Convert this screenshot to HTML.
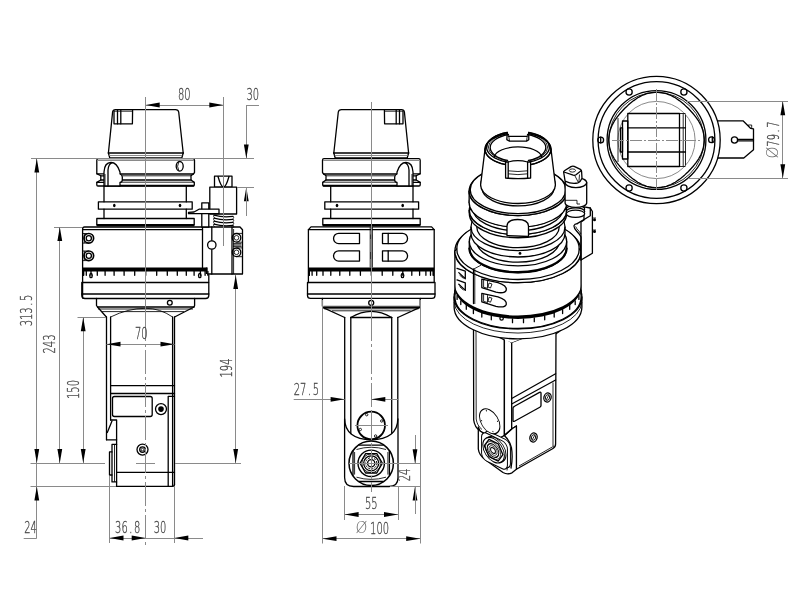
<!DOCTYPE html>
<html><head><meta charset="utf-8"><title>Drawing</title>
<style>
html,body{margin:0;padding:0;background:#fff;}
svg{display:block;filter:grayscale(1)}
.k{stroke:#000;stroke-width:1.3;fill:none;stroke-linecap:round;stroke-linejoin:round}
.kw{stroke:#000;stroke-width:1.3;fill:#fff;stroke-linejoin:round}
.h{stroke:#000;stroke-width:1.7;fill:none}
.m{stroke:#000;stroke-width:0.85;fill:none}
.t{stroke:#8a8a8a;stroke-width:1;fill:none}
.c{stroke:#8a8a8a;stroke-width:1;fill:none;stroke-dasharray:24 3 3 3}
.c2{stroke:#8a8a8a;stroke-width:1;fill:none;stroke-dasharray:12 2 2 2}
.b{fill:#000;stroke:none}
.w{fill:#fff;stroke:none}
.a{fill:#000;stroke:none}
text{font-family:"DejaVu Sans Light","DejaVu Sans","Liberation Sans",sans-serif;font-weight:200;font-size:16px;fill:#484848;stroke:#484848;stroke-width:0.3;vector-effect:non-scaling-stroke}
</style></head><body>
<svg width="800" height="600" viewBox="0 0 800 600">
<rect x="0" y="0" width="800" height="600" fill="#fff"/>
<g id="v1">
<path class="k" d="M108.4,153 L112.6,112 Q112.9,109.6 115.5,109.6 L175.5,109.6 Q178.3,109.6 178.7,112 L183.2,153"/>
<line class="k" x1="108.4" y1="153" x2="183.2" y2="153"/>
<path class="k" d="M108.4,153 L109.8,158 L181.8,158 L183.2,153"/>
<line class="t" x1="109.4" y1="155.5" x2="182.2" y2="155.5"/>
<path class="k" d="M114,111 L114,123.8 L132.4,123.8 L132.6,109.6"/>
<line class="k" x1="117.5" y1="110" x2="117.5" y2="123.8"/>
<line class="k" x1="120.8" y1="110" x2="120.8" y2="123.8"/>
<line class="m" x1="114" y1="111.2" x2="132.4" y2="111.2"/>
<path class="kw" d="M98.3,158.7 L193,158.7 Q194.5,158.7 194.5,160.2 L194.5,172.5 L193.5,173.8 L191,175.8 L191,180 L194.3,182.4 L194.3,185 Q194.3,186 193.3,186 L98,186 Q96.8,186 96.8,185 L96.8,182.4 L100.8,180 L100.8,175.8 L96.8,173.6 L96.8,160.2 Q96.8,158.7 98.3,158.7 Z"/>
<line class="t" x1="97.5" y1="160.5" x2="194" y2="160.5"/>
<line class="k" x1="120" y1="174" x2="193.5" y2="174"/>
<line class="m" x1="122.2" y1="175.8" x2="191" y2="175.8"/>
<line class="k" x1="122.2" y1="180" x2="191" y2="180"/>
<line class="m" x1="120" y1="182.2" x2="194.3" y2="182.2"/>
<line class="h" x1="118" y1="185.7" x2="194" y2="185.7"/>
<line class="k" x1="96.8" y1="173.8" x2="106" y2="173.8"/>
<line class="k" x1="100.8" y1="175.8" x2="106" y2="175.8"/>
<line class="k" x1="100.8" y1="180" x2="106" y2="180"/>
<line class="k" x1="96.8" y1="182.4" x2="106" y2="182.4"/>
<path class="kw" d="M104,186 L104,172 Q104.5,162.5 111,162.5 Q117,162.5 120,172 L120,174 Q122.3,175 122.3,177 L122.3,180 Q122.3,182 120,182.5 L120,186 Z"/>
<path class="k" d="M108,186 L108,170 Q108.5,164 112,162.6"/>
<line class="m" x1="105" y1="174" x2="105" y2="186"/>
<ellipse class="k" cx="179.7" cy="166.3" rx="3.5" ry="4.8"/>
<path class="m" d="M178.8,161.8 Q176.4,166.3 178.8,170.8"/>
<line class="k" x1="104" y1="186" x2="104" y2="201.8"/>
<line class="k" x1="186.3" y1="186" x2="186.3" y2="201.8"/>
<rect class="k" x="98.4" y="201.8" width="93.8" height="7.4" rx="0"/>
<line class="k" x1="104" y1="209.2" x2="104" y2="218.5"/>
<line class="k" x1="186.3" y1="209.2" x2="186.3" y2="218.5"/>
<ellipse class="b" cx="114.3" cy="205.5" rx="1.3" ry="1.8"/>
<ellipse class="b" cx="180" cy="205.5" rx="1.3" ry="1.8"/>
<path class="k" d="M96.8,225 L96.8,218.5 L194.2,218.5 L194.2,225"/>
<rect class="b" x="96.8" y="224" width="97.4" height="2.4" rx="0"/>
<path class="k" d="M82.6,298 L82.6,229 Q82.6,227 84.6,227 L240,227 L242.5,229.8 L242.5,274 L207.5,274"/>
<line class="k" x1="83" y1="229.6" x2="202.5" y2="229.6"/>
<circle class="h" cx="88.8" cy="238.3" r="4.8"/>
<circle class="k" cx="88.8" cy="238.3" r="2.6"/>
<line class="m" x1="83" y1="233.5" x2="88.8" y2="233.5"/>
<line class="m" x1="83" y1="243.10000000000002" x2="88.8" y2="243.10000000000002"/>
<line class="m" x1="84.3" y1="233.5" x2="84.3" y2="243.10000000000002"/>
<circle class="h" cx="88.8" cy="255.8" r="4.8"/>
<circle class="k" cx="88.8" cy="255.8" r="2.6"/>
<line class="m" x1="83" y1="251.0" x2="88.8" y2="251.0"/>
<line class="m" x1="83" y1="260.6" x2="88.8" y2="260.6"/>
<line class="m" x1="84.3" y1="251.0" x2="84.3" y2="260.6"/>
<rect class="b" x="82.6" y="267.5" width="124.6" height="4" rx="0"/>
<rect class="b" x="205.8" y="267.5" width="1.8" height="6.5" rx="0"/>
<line class="k" x1="83.5" y1="271.5" x2="83.5" y2="275.3"/>
<line class="k" x1="86.3" y1="271.5" x2="86.3" y2="275.3"/>
<line class="k" x1="91.0" y1="271.5" x2="91.0" y2="275.3"/>
<line class="k" x1="97.3" y1="271.5" x2="97.3" y2="275.3"/>
<line class="k" x1="105.1" y1="271.5" x2="105.1" y2="275.3"/>
<line class="k" x1="114.1" y1="271.5" x2="114.1" y2="275.3"/>
<line class="k" x1="124.1" y1="271.5" x2="124.1" y2="275.3"/>
<line class="k" x1="134.7" y1="271.5" x2="134.7" y2="275.3"/>
<line class="k" x1="145.7" y1="271.5" x2="145.7" y2="275.3"/>
<line class="k" x1="156.7" y1="271.5" x2="156.7" y2="275.3"/>
<line class="k" x1="167.3" y1="271.5" x2="167.3" y2="275.3"/>
<line class="k" x1="177.3" y1="271.5" x2="177.3" y2="275.3"/>
<line class="k" x1="186.3" y1="271.5" x2="186.3" y2="275.3"/>
<line class="k" x1="194.1" y1="271.5" x2="194.1" y2="275.3"/>
<line class="k" x1="200.4" y1="271.5" x2="200.4" y2="275.3"/>
<line class="k" x1="205.1" y1="271.5" x2="205.1" y2="275.3"/>
<line class="k" x1="207.9" y1="271.5" x2="207.9" y2="275.3"/>
<line class="k" x1="83.6" y1="271.5" x2="83.6" y2="275.3"/>
<ellipse class="k" cx="91" cy="275.6" rx="1.3" ry="2.1"/>
<ellipse class="k" cx="199.8" cy="275.6" rx="1.3" ry="2.1"/>
<line class="k" x1="82.6" y1="282.5" x2="208.6" y2="282.5"/>
<path class="k" d="M81.8,282.5 L81.8,295.5 Q81.8,298.5 85,298.5 L205.6,298.5 Q208.8,298.5 208.8,295.5 L208.8,275"/>
<line class="k" x1="81.8" y1="294" x2="208.8" y2="294"/>
<path class="k" d="M96.5,298.5 L96.5,305.5 L97.5,307 L194,307 L194.6,305.5 L194.6,298.5"/>
<line class="m" x1="98" y1="309" x2="193" y2="309"/>
<circle class="k" cx="169.8" cy="302.8" r="2.4"/>
<path class="k" d="M97.5,307 L106.4,317"/>
<path class="k" d="M194,307 L174.6,317"/>
<line class="m" x1="102" y1="311.6" x2="184" y2="311.6"/>
<path class="m" d="M110.6,317 Q128,308.3 145.7,308.3 Q160,308.3 172.6,317"/>
<line class="k" x1="202.5" y1="227" x2="202.5" y2="267.5"/>
<line class="k" x1="211.8" y1="227" x2="211.8" y2="274"/>
<circle class="kw" cx="211.8" cy="245" r="4.2"/>
<line class="k" x1="232" y1="227" x2="232" y2="274"/>
<line class="m" x1="233.6" y1="229" x2="233.6" y2="274"/>
<circle class="k" cx="236.5" cy="237.8" r="4.3"/>
<circle class="m" cx="236.5" cy="237.8" r="2.3"/>
<line class="m" x1="236.5" y1="233.4" x2="242" y2="233.4"/>
<line class="m" x1="236.5" y1="242.20000000000002" x2="242" y2="242.20000000000002"/>
<circle class="k" cx="236.5" cy="252.3" r="4.3"/>
<circle class="m" cx="236.5" cy="252.3" r="2.3"/>
<line class="m" x1="236.5" y1="247.9" x2="242" y2="247.9"/>
<line class="m" x1="236.5" y1="256.7" x2="242" y2="256.7"/>
<line class="k" x1="233.6" y1="243.8" x2="241" y2="243.8"/>
<line class="k" x1="233.6" y1="246.2" x2="241" y2="246.2"/>
<rect class="k" x="214.5" y="176.2" width="17.5" height="11" rx="0"/>
<path class="k" d="M218,176.5 Q221,187 223.5,187 Q226,187 229,176.5"/>
<rect class="kw" x="209.8" y="187.2" width="26.8" height="26.8" rx="0"/>
<rect class="kw" x="201.8" y="202.8" width="7" height="24.2" rx="0"/>
<path class="kw" d="M188.5,212.4 L194,212 L199,209.2 L219,209.2 L219,213.7 L188.5,213.7 Z"/>
<path class="k" d="M214,215.2 Q223,217.79999999999998 233,216.39999999999998"/>
<path class="m" d="M214,215.2 Q213,216.7 214.6,217.79999999999998"/>
<path class="m" d="M233,216.39999999999998 Q234.4,217.6 233,218.79999999999998"/>
<path class="k" d="M214,218.2 Q223,220.79999999999998 233,219.39999999999998"/>
<path class="m" d="M214,218.2 Q213,219.7 214.6,220.79999999999998"/>
<path class="m" d="M233,219.39999999999998 Q234.4,220.6 233,221.79999999999998"/>
<path class="k" d="M214,221.2 Q223,223.79999999999998 233,222.39999999999998"/>
<path class="m" d="M214,221.2 Q213,222.7 214.6,223.79999999999998"/>
<path class="m" d="M233,222.39999999999998 Q234.4,223.6 233,224.79999999999998"/>
<path class="k" d="M214,224.2 Q223,226.79999999999998 233,225.39999999999998"/>
<path class="m" d="M214,224.2 Q213,225.7 214.6,226.79999999999998"/>
<path class="m" d="M233,225.39999999999998 Q234.4,226.6 233,227.79999999999998"/>
<line class="k" x1="106.5" y1="317" x2="106.5" y2="439.8"/>
<line class="k" x1="110.6" y1="317" x2="110.6" y2="420"/>
<line class="k" x1="172.6" y1="317" x2="172.6" y2="486"/>
<line class="k" x1="174.5" y1="317" x2="174.5" y2="484.5"/>
<line class="k" x1="110.6" y1="385.6" x2="174.5" y2="385.6"/>
<line class="k" x1="110.6" y1="393.5" x2="174.5" y2="393.5"/>
<rect class="k" x="112.5" y="396.5" width="39.7" height="20" rx="2"/>
<circle class="k" cx="161" cy="409.1" r="5.5"/>
<circle class="b" cx="161" cy="409.1" r="2.8"/>
<path class="k" d="M174.5,396.3 L168.2,396.3 L168.2,486"/>
<path class="k" d="M110.6,420 L116.6,420 L116.6,486.3"/>
<path class="k" d="M112,421 L107.3,432.5"/>
<line class="k" x1="106.5" y1="439.8" x2="116.6" y2="439.8"/>
<path class="k" d="M116.6,444.4 L112,444.4 L112,481.9 L116.6,481.9"/>
<path class="k" d="M112,451.9 L109.5,451.9 L109.5,475 L112,475"/>
<line class="m" x1="114.5" y1="444.4" x2="114.5" y2="481.9"/>
<circle class="k" cx="142.5" cy="449.6" r="5.5"/>
<circle class="k" cx="142.5" cy="449.6" r="2.8"/>
<circle class="m" cx="142.5" cy="449.6" r="1.3"/>
<line class="k" x1="116.6" y1="472.3" x2="174.5" y2="472.3"/>
<path class="k" d="M116.6,486.3 L172.5,486.3 Q174.5,486.3 174.5,484.3"/>
</g>
<g id="d1">
<line class="t" x1="145.5" y1="97" x2="145.5" y2="317"/>
<line class="c" x1="145.5" y1="317" x2="145.5" y2="545"/>
<line class="t" x1="223.5" y1="97" x2="223.5" y2="246"/>
<line class="t" x1="145.7" y1="105.5" x2="223.3" y2="105.5"/>
<polygon class="a" points="145.7,105.0 159.7,102.6 159.7,107.4"/>
<polygon class="a" points="223.3,105.0 209.3,102.6 209.3,107.4"/>
<text transform="translate(184.2 100.3) scale(0.62 1)" x="-10.21 0.03" y="0">80</text>
<line class="t" x1="246.3" y1="105.5" x2="259" y2="105.5"/>
<line class="t" x1="246.5" y1="105" x2="246.5" y2="158.5"/>
<polygon class="a" points="246.3,158.5 243.9,144.5 248.7,144.5"/>
<polygon class="a" points="246.3,187.2 243.9,201.2 248.7,201.2"/>
<line class="t" x1="246.5" y1="187.2" x2="246.5" y2="216"/>
<text transform="translate(252.8 100.3) scale(0.62 1)" x="-10.21 0.03" y="0">30</text>
<line class="t" x1="31" y1="158.5" x2="254" y2="158.5"/>
<line class="t" x1="237" y1="187.5" x2="254" y2="187.5"/>
<line class="t" x1="36.5" y1="158.5" x2="36.5" y2="463"/>
<polygon class="a" points="36.8,158.5 34.4,172.5 39.2,172.5"/>
<polygon class="a" points="36.8,463.0 34.4,449.0 39.2,449.0"/>
<text transform="translate(32.4 310.5) rotate(-90) scale(0.62 1)" x="-25.57 -15.33 -5.09 7.7 15.4" y="0">313.5</text>
<line class="t" x1="54" y1="227.5" x2="82" y2="227.5"/>
<line class="t" x1="59.5" y1="227" x2="59.5" y2="463"/>
<polygon class="a" points="59.8,227.0 57.4,241.0 62.2,241.0"/>
<polygon class="a" points="59.8,463.0 57.4,449.0 62.2,449.0"/>
<text transform="translate(55.2 344) rotate(-90) scale(0.62 1)" x="-15.33 -5.09 5.15" y="0">243</text>
<line class="t" x1="77.5" y1="317.5" x2="106" y2="317.5"/>
<line class="t" x1="83.5" y1="317.2" x2="83.5" y2="463"/>
<polygon class="a" points="83.2,317.2 80.8,331.2 85.6,331.2"/>
<polygon class="a" points="83.2,463.0 80.8,449.0 85.6,449.0"/>
<text transform="translate(79.2 389.5) rotate(-90) scale(0.62 1)" x="-15.33 -5.09 5.15" y="0">150</text>
<line class="t" x1="235.5" y1="275" x2="235.5" y2="463"/>
<polygon class="a" points="235.7,275.0 233.3,289.0 238.1,289.0"/>
<polygon class="a" points="235.7,463.0 233.3,449.0 238.1,449.0"/>
<text transform="translate(232.2 368) rotate(-90) scale(0.62 1)" x="-15.33 -5.09 5.15" y="0">194</text>
<line class="t" x1="30.5" y1="463.5" x2="105" y2="463.5"/>
<line class="t" x1="175" y1="463.5" x2="241" y2="463.5"/>
<line class="t" x1="136" y1="463.5" x2="155" y2="463.5"/>
<line class="t" x1="30.5" y1="486.5" x2="116" y2="486.5"/>
<line class="t" x1="36.5" y1="463" x2="36.5" y2="538"/>
<polygon class="a" points="36.8,486.4 34.4,500.4 39.2,500.4"/>
<line class="t" x1="23.7" y1="538.5" x2="36.8" y2="538.5"/>
<text transform="translate(30.5 533) scale(0.62 1)" x="-10.21 0.03" y="0">24</text>
<line class="t" x1="106.5" y1="344.5" x2="174.5" y2="344.5"/>
<polygon class="a" points="106.5,344.2 120.5,341.8 120.5,346.6"/>
<polygon class="a" points="174.5,344.2 160.5,341.8 160.5,346.6"/>
<text transform="translate(141.2 338.8) scale(0.62 1)" x="-10.21 0.03" y="0">70</text>
<line class="t" x1="109.5" y1="476" x2="109.5" y2="543"/>
<line class="t" x1="174.5" y1="486" x2="174.5" y2="543"/>
<line class="t" x1="109.5" y1="538.5" x2="203" y2="538.5"/>
<polygon class="a" points="109.5,538.0 123.5,535.6 123.5,540.4"/>
<polygon class="a" points="145.7,538.0 131.7,535.6 131.7,540.4"/>
<polygon class="a" points="174.3,538.0 188.3,535.6 188.3,540.4"/>
<text transform="translate(127.7 533) scale(0.62 1)" x="-20.45 -10.21 2.58 10.27" y="0">36.8</text>
<text transform="translate(160 533) scale(0.62 1)" x="-10.21 0.03" y="0">30</text>
</g>
<g id="v2">
<g transform="translate(517.0 0) scale(-1 1)">
<path class="k" d="M108.4,153 L112.6,112 Q112.9,109.6 115.5,109.6 L175.5,109.6 Q178.3,109.6 178.7,112 L183.2,153"/>
<line class="k" x1="108.4" y1="153" x2="183.2" y2="153"/>
<path class="k" d="M108.4,153 L109.8,158 L181.8,158 L183.2,153"/>
<line class="t" x1="109.4" y1="155.5" x2="182.2" y2="155.5"/>
<path class="k" d="M114,111 L114,123.8 L132.4,123.8 L132.6,109.6"/>
<line class="k" x1="117.5" y1="110" x2="117.5" y2="123.8"/>
<line class="k" x1="120.8" y1="110" x2="120.8" y2="123.8"/>
<line class="m" x1="114" y1="111.2" x2="132.4" y2="111.2"/>
<path class="kw" d="M98.3,158.7 L193,158.7 Q194.5,158.7 194.5,160.2 L194.5,172.5 L193.5,173.8 L191,175.8 L191,180 L194.3,182.4 L194.3,185 Q194.3,186 193.3,186 L98,186 Q96.8,186 96.8,185 L96.8,182.4 L100.8,180 L100.8,175.8 L96.8,173.6 L96.8,160.2 Q96.8,158.7 98.3,158.7 Z"/>
<line class="t" x1="97.5" y1="160.5" x2="194" y2="160.5"/>
<line class="k" x1="120" y1="174" x2="193.5" y2="174"/>
<line class="m" x1="122.2" y1="175.8" x2="191" y2="175.8"/>
<line class="k" x1="122.2" y1="180" x2="191" y2="180"/>
<line class="m" x1="120" y1="182.2" x2="194.3" y2="182.2"/>
<line class="h" x1="118" y1="185.7" x2="194" y2="185.7"/>
<line class="k" x1="96.8" y1="173.8" x2="106" y2="173.8"/>
<line class="k" x1="100.8" y1="175.8" x2="106" y2="175.8"/>
<line class="k" x1="100.8" y1="180" x2="106" y2="180"/>
<line class="k" x1="96.8" y1="182.4" x2="106" y2="182.4"/>
<path class="kw" d="M104,186 L104,172 Q104.5,162.5 111,162.5 Q117,162.5 120,172 L120,174 Q122.3,175 122.3,177 L122.3,180 Q122.3,182 120,182.5 L120,186 Z"/>
<path class="k" d="M108,186 L108,170 Q108.5,164 112,162.6"/>
<line class="m" x1="105" y1="174" x2="105" y2="186"/>
<line class="k" x1="104" y1="186" x2="104" y2="201.8"/>
<line class="k" x1="186.3" y1="186" x2="186.3" y2="201.8"/>
<rect class="k" x="98.4" y="201.8" width="93.8" height="7.4" rx="0"/>
<line class="k" x1="104" y1="209.2" x2="104" y2="218.5"/>
<line class="k" x1="186.3" y1="209.2" x2="186.3" y2="218.5"/>
<ellipse class="b" cx="114.3" cy="205.5" rx="1.3" ry="1.8"/>
<ellipse class="b" cx="180" cy="205.5" rx="1.3" ry="1.8"/>
<path class="k" d="M96.8,225 L96.8,218.5 L194.2,218.5 L194.2,225"/>
<rect class="b" x="96.8" y="224" width="97.4" height="2.4" rx="0"/>
</g>
<path class="k" d="M308.4,282.5 L308.4,229.6 L311,226.9 L431.6,226.9 L434.2,229.6 L434.2,282.5"/>
<line class="k" x1="308.4" y1="229.6" x2="434.2" y2="229.6"/>
<path class="k" d="M359.5,233.3 L338.7,233.3 A5.15,5.15 0 0 0 338.7,243.60000000000002 L359.5,243.60000000000002 Z"/>
<path class="k" d="M382.5,233.3 L402.4,233.3 A5.15,5.15 0 0 1 402.4,243.60000000000002 L382.5,243.60000000000002 Z"/>
<line class="k" x1="388.2" y1="233.3" x2="388.2" y2="243.60000000000002"/>
<path class="k" d="M359.5,250.8 L338.7,250.8 A5.15,5.15 0 0 0 338.7,261.1 L359.5,261.1 Z"/>
<path class="k" d="M382.5,250.8 L402.4,250.8 A5.15,5.15 0 0 1 402.4,261.1 L382.5,261.1 Z"/>
<line class="k" x1="388.2" y1="250.8" x2="388.2" y2="261.1"/>
<line class="m" x1="370.2" y1="227" x2="370.2" y2="267.5"/>
<line class="m" x1="372.4" y1="227" x2="372.4" y2="267.5"/>
<path d="M371.3,234.5 V239 M371.3,252 V259" stroke="#000" stroke-width="1.7" fill="none"/>
<rect class="b" x="308.4" y="267.5" width="125.8" height="4" rx="0"/>
<line class="k" x1="309.3" y1="271.5" x2="309.3" y2="275.3"/>
<line class="k" x1="312.1" y1="271.5" x2="312.1" y2="275.3"/>
<line class="k" x1="316.7" y1="271.5" x2="316.7" y2="275.3"/>
<line class="k" x1="323.0" y1="271.5" x2="323.0" y2="275.3"/>
<line class="k" x1="330.8" y1="271.5" x2="330.8" y2="275.3"/>
<line class="k" x1="339.8" y1="271.5" x2="339.8" y2="275.3"/>
<line class="k" x1="349.8" y1="271.5" x2="349.8" y2="275.3"/>
<line class="k" x1="360.4" y1="271.5" x2="360.4" y2="275.3"/>
<line class="k" x1="371.3" y1="271.5" x2="371.3" y2="275.3"/>
<line class="k" x1="382.2" y1="271.5" x2="382.2" y2="275.3"/>
<line class="k" x1="392.8" y1="271.5" x2="392.8" y2="275.3"/>
<line class="k" x1="402.8" y1="271.5" x2="402.8" y2="275.3"/>
<line class="k" x1="411.8" y1="271.5" x2="411.8" y2="275.3"/>
<line class="k" x1="419.6" y1="271.5" x2="419.6" y2="275.3"/>
<line class="k" x1="425.9" y1="271.5" x2="425.9" y2="275.3"/>
<line class="k" x1="430.5" y1="271.5" x2="430.5" y2="275.3"/>
<line class="k" x1="433.3" y1="271.5" x2="433.3" y2="275.3"/>
<line class="k" x1="309.3" y1="271.5" x2="309.3" y2="275.3"/>
<line class="k" x1="433.3" y1="271.5" x2="433.3" y2="275.3"/>
<ellipse class="k" cx="402.5" cy="275.6" rx="1.3" ry="2.1"/>
<line class="k" x1="308.4" y1="282.5" x2="434.2" y2="282.5"/>
<path class="k" d="M307.5,282.5 L307.5,295.5 Q307.5,298.4 310.5,298.4 L432,298.4 Q435,298.4 435,295.5 L435,282.5"/>
<line class="k" x1="307.5" y1="294" x2="435" y2="294"/>
<path class="k" d="M322.4,298.4 L322.4,306 L323.2,307.6 L419.4,307.6 L420.2,306 L420.2,298.4"/>
<line class="m" x1="323.5" y1="306.3" x2="419" y2="306.3"/>
<line class="m" x1="324" y1="308.8" x2="418.6" y2="308.8"/>
<line class="m" x1="332" y1="310.8" x2="410.6" y2="310.8"/>
<circle class="k" cx="371.2" cy="302.8" r="2.5"/>
<path class="k" d="M323.2,307.6 L344.7,317.5"/>
<path class="k" d="M419.4,307.6 L397.8,317.5"/>
<path class="k" d="M344.7,317.5 L344.7,419 C344.7,432 354,439.8 371.2,439.8 C388.5,439.8 397.8,432 397.8,419 L397.8,317.5"/>
<line class="k" x1="350.8" y1="317.5" x2="350.8" y2="433.5"/>
<line class="k" x1="391.7" y1="317.5" x2="391.7" y2="433.5"/>
<line class="k" x1="350.8" y1="317.5" x2="391.7" y2="317.5"/>
<path class="k" d="M350.8,317.5 Q361,311.3 371.2,311.3 Q381.5,311.3 391.7,317.5"/>
<circle cx="371.2" cy="425.5" r="13.8" fill="none" stroke="#000" stroke-width="1.8"/>
<circle class="m" cx="366.7" cy="414.7" r="1.2"/>
<circle class="m" cx="381.7" cy="421.0" r="1.2"/>
<circle class="m" cx="360.3" cy="429.5" r="1.2"/>
<circle class="m" cx="375.6" cy="436.0" r="1.2"/>
<line class="t" x1="355" y1="425.5" x2="388" y2="425.5"/>
<line class="t" x1="371.5" y1="410" x2="371.5" y2="441"/>
<path class="k" d="M344.6,419 L344.6,477.5 Q344.6,486.5 353.6,486.5 L389,486.5 Q398,486.5 398,477.5 L398,419"/>
<circle cx="371.2" cy="463.3" r="22.2" fill="none" stroke="#000" stroke-width="1.5"/>
<line class="k" x1="353" y1="451.2" x2="353" y2="475.4"/>
<line class="k" x1="389.4" y1="451.2" x2="389.4" y2="475.4"/>
<line class="k" x1="359" y1="445.1" x2="383.4" y2="445.1"/>
<line class="k" x1="359" y1="481.5" x2="383.4" y2="481.5"/>
<path class="m" d="M356.5,449.5 Q371.2,445 386,449.5"/>
<path class="m" d="M356.5,477.2 Q371.2,481.6 386,477.2"/>
<line class="m" x1="354.6" y1="452" x2="354.6" y2="474.6"/>
<line class="m" x1="387.9" y1="452" x2="387.9" y2="474.6"/>
<circle cx="371.2" cy="463.3" r="13.2" fill="none" stroke="#000" stroke-width="1.4"/>
<polygon class="k" points="382.4,463.3 376.8,473.0 365.6,473.0 360.0,463.3 365.6,453.6 376.8,453.6"/>
<circle class="m" cx="371.2" cy="463.3" r="9.4"/>
<circle class="k" cx="371.2" cy="463.3" r="7.5"/>
<circle cx="371.2" cy="463.3" r="5.6" fill="none" stroke="#000" stroke-width="1" stroke-dasharray="2 1.2"/>
<circle class="k" cx="371.2" cy="463.3" r="3.6"/>
</g>
<g id="d2">
<line class="t" x1="371.5" y1="102" x2="371.5" y2="317"/>
<line class="c" x1="371.5" y1="317" x2="371.5" y2="492"/>
<line class="t" x1="322.5" y1="300" x2="322.5" y2="543.5"/>
<line class="t" x1="420.5" y1="300" x2="420.5" y2="543.5"/>
<line class="t" x1="293.7" y1="399.5" x2="344.6" y2="399.5"/>
<line class="t" x1="371.3" y1="399.5" x2="398" y2="399.5"/>
<polygon class="a" points="344.6,399.3 330.6,396.9 330.6,401.7"/>
<polygon class="a" points="371.3,399.3 385.3,396.9 385.3,401.7"/>
<text transform="translate(306.3 394.5) scale(0.62 1)" x="-20.45 -10.21 2.58 10.27" y="0">27.5</text>
<line class="t" x1="349" y1="463.5" x2="421" y2="463.5"/>
<line class="t" x1="390" y1="486.5" x2="421" y2="486.5"/>
<line class="t" x1="415.5" y1="435" x2="415.5" y2="463.3"/>
<polygon class="a" points="415.0,463.3 412.6,449.3 417.4,449.3"/>
<polygon class="a" points="415.0,486.4 412.6,500.4 417.4,500.4"/>
<line class="t" x1="415.5" y1="486.4" x2="415.5" y2="514"/>
<text transform="translate(410 475) rotate(-90) scale(0.62 1)" x="-10.21 0.03" y="0">24</text>
<line class="t" x1="344.5" y1="486" x2="344.5" y2="520"/>
<line class="t" x1="398.5" y1="486" x2="398.5" y2="520"/>
<line class="t" x1="344.6" y1="514.5" x2="398" y2="514.5"/>
<polygon class="a" points="344.6,514.5 358.6,512.1 358.6,516.9"/>
<polygon class="a" points="398.0,514.5 384.0,512.1 384.0,516.9"/>
<text transform="translate(371.2 509.3) scale(0.62 1)" x="-10.21 0.03" y="0">55</text>
<line class="t" x1="322.5" y1="538.5" x2="420.2" y2="538.5"/>
<polygon class="a" points="322.5,538.7 336.5,536.3 336.5,541.1"/>
<polygon class="a" points="420.2,538.7 406.2,536.3 406.2,541.1"/>
<text transform="translate(379.6 533.5) scale(0.62 1)" x="-15.33 -5.09 5.15" y="0">100</text>
<text transform="translate(361.6 527.6) scale(0.95 1)" x="0" y="4.9" text-anchor="middle" font-size="13.5" style="stroke:none;fill:#666">Ø</text>
</g>
<g id="v3">
<path class="kw" d="M469.00,318.18 A49.00,24.50 0 0 1 567.00,318.18 L558.00,326.84 A40.00,20.00 0 0 1 478.00,326.84 Z"/>
<path class="kw" d="M469.00,310.82 A49.00,24.50 0 0 1 567.00,310.82 L567.00,318.18 A49.00,24.50 0 0 1 469.00,318.18 Z"/>
<path class="k" d="M469.00,310.82 A49.00,24.50 0 0 0 567.00,310.82"/>
<path class="kw" d="M473.5,325 L473.7,420 Q474.5,427 480,431 Q490,438 500,438 L504.4,435.5 L504.4,338 L496,334 Z"/>
<path class="m" d="M476,327 L476.2,419 Q477,425.5 482,429.5"/>
<path class="kw" d="M504.4,338 L511.7,342.5 L511.7,429 L504.4,435.5 Z"/>
<path class="kw" d="M511.7,342.5 L526,337 L556,330 L555.6,444 Q555.6,447 553,448.5 L516.4,469.3 L516.4,426 L511.7,429 Z"/>
<line class="m" x1="553" y1="382.5" x2="553" y2="446"/>
<line class="k" x1="511.7" y1="398.5" x2="555.6" y2="373.7"/>
<line class="k" x1="511.7" y1="404" x2="555.6" y2="380"/>
<path class="k" d="M514.5,406.3 L539.5,392.4 Q541,391.6 541,393.2 L541,405.5 Q541,406.5 539.8,407.2 L514.5,421.2 Q513,422 513,420.4 L513,408 Q513,407 514.5,406.3 Z"/>
<ellipse class="k" cx="547.5" cy="397.5" rx="3.6" ry="4.6" transform="rotate(15 547.5 397.5)"/>
<ellipse class="m" cx="547.5" cy="397.5" rx="2.1" ry="2.9" transform="rotate(15 547.5 397.5)"/>
<line class="m" x1="545.8" y1="400.5" x2="549.2" y2="394.5"/>
<ellipse class="k" cx="533.5" cy="437.5" rx="3.6" ry="4.6" transform="rotate(15 533.5 437.5)"/>
<ellipse class="m" cx="533.5" cy="437.5" rx="2.1" ry="2.9" transform="rotate(15 533.5 437.5)"/>
<line class="m" x1="531.8" y1="440.5" x2="535.2" y2="434.5"/>
<line class="m" x1="519" y1="466" x2="554" y2="446"/>
<path class="kw" d="M478.3,427 L478.3,449 Q479,455 485,459.5 L503,472.5 Q507.5,475 512,472.8 L516.4,469.3 L516.4,426 L511.7,429 L504.4,435.5 L500,438 Q490,438 480,431 Z"/>
<path class="k" d="M504.4,435.5 Q509.5,440 511.5,448 Q513,458 511,468"/>
<path class="m" d="M500,438 Q505.5,443 507.5,450 Q509.5,460 507,470.5"/>
<path class="k" d="M504.4,435.5 L511.7,429"/>
<path class="w" d="M470,318 L472.5,325.5 Q483,332 496,335.4 L504.4,340 L511.7,342.5 L526,337 L526,325 Z"/>
<path class="k" d="M472.8,325.8 Q483,332 496,335.4 L504.4,340"/>
<rect class="kw" x="-17" y="-17" width="34" height="34" rx="7" transform="matrix(0.76 0.37 0 0.82 497.5 449.5)"/>
<rect class="kw" x="-17" y="-17" width="34" height="34" rx="7" transform="matrix(0.76 0.37 0 0.82 494.5 451)"/>
<circle class="kw" cx="0" cy="0" r="14.2" stroke-width="1.6" transform="matrix(0.76 0.37 0 0.82 495.20000000000005 449.4)"/>
<circle class="kw" cx="0" cy="0" r="14.2" stroke-width="1.6" transform="matrix(0.76 0.37 0 0.82 493.6 450.2)"/>
<path class="k" d="M502.9,454.7 L498.2,461.1 L489.0,456.6 L484.3,445.7 L489.0,439.3 L498.2,443.8 Z"/>
<circle class="m" cx="0" cy="0" r="10" transform="matrix(0.76 0.37 0 0.82 493.0 450.5)"/>
<circle class="k" cx="0" cy="0" r="7.6" transform="matrix(0.76 0.37 0 0.82 493.0 450.5)"/>
<circle class="m" cx="0" cy="0" r="5.4" transform="matrix(0.76 0.37 0 0.82 493.0 450.5)"/>
<circle class="k" cx="0" cy="0" r="3.2" transform="matrix(0.76 0.37 0 0.82 493.0 450.5)"/>
<circle class="kw" cx="0" cy="0" r="13.8" transform="matrix(0.74 0.36 0 0.83 489.7 421.3)"/>
<circle class="b" cx="-4.5" cy="-10.8" r="0.8" transform="matrix(0.74 0.36 0 0.83 489.7 421.3)"/>
<circle class="b" cx="10.5" cy="-4.5" r="0.8" transform="matrix(0.74 0.36 0 0.83 489.7 421.3)"/>
<circle class="b" cx="-10.9" cy="4" r="0.8" transform="matrix(0.74 0.36 0 0.83 489.7 421.3)"/>
<circle class="b" cx="4.4" cy="10.5" r="0.8" transform="matrix(0.74 0.36 0 0.83 489.7 421.3)"/>
<path class="kw" d="M454.10,296.96 A63.90,31.95 0 0 1 581.90,296.96 L581.90,306.92 A63.90,31.95 0 0 1 454.10,306.92 Z"/>
<path class="k" d="M454.10,296.96 A63.90,31.95 0 0 0 581.90,296.96"/>
<path class="m" d="M454.14,302.23 A63.90,31.95 0 0 0 581.86,302.23"/>
<path class="kw" d="M454.90,251.15 A63.10,31.55 0 0 1 581.10,251.15 L581.10,296.96 A63.10,31.55 0 0 1 454.90,296.96 Z"/>
<path class="k" d="M454.90,251.15 A63.10,31.55 0 0 0 581.10,251.15"/>
<path class="kw" d="M456.80,248.90 A61.20,30.60 0 0 1 579.20,248.90 L581.10,251.15 A63.10,31.55 0 0 1 454.90,251.15 Z"/>
<path class="k" d="M456.80,248.90 A61.20,30.60 0 0 0 579.20,248.90"/>
<path class="b" d="M454.9,283.97 A63.1,31.55 0 0 0 581.1,283.97 L581.1,287.43 A63.1,31.55 0 0 1 454.9,287.43 Z"/>
<line class="k" x1="455.1" y1="290.2" x2="455.1" y2="294.0"/>
<line class="k" x1="457.1" y1="295.6" x2="457.1" y2="299.4"/>
<line class="k" x1="460.8" y1="300.8" x2="460.8" y2="304.6"/>
<line class="k" x1="466.3" y1="305.5" x2="466.3" y2="309.3"/>
<line class="k" x1="473.4" y1="309.7" x2="473.4" y2="313.5"/>
<line class="k" x1="481.8" y1="313.3" x2="481.8" y2="317.1"/>
<line class="k" x1="491.3" y1="316.0" x2="491.3" y2="319.8"/>
<line class="k" x1="512.5" y1="318.9" x2="512.5" y2="322.7"/>
<line class="k" x1="523.5" y1="318.9" x2="523.5" y2="322.7"/>
<line class="k" x1="534.3" y1="317.9" x2="534.3" y2="321.7"/>
<line class="k" x1="544.7" y1="316.0" x2="544.7" y2="319.8"/>
<line class="k" x1="554.2" y1="313.3" x2="554.2" y2="317.1"/>
<line class="k" x1="562.6" y1="309.7" x2="562.6" y2="313.5"/>
<line class="k" x1="569.7" y1="305.5" x2="569.7" y2="309.3"/>
<line class="k" x1="575.2" y1="300.8" x2="575.2" y2="304.6"/>
<line class="k" x1="578.9" y1="295.6" x2="578.9" y2="299.4"/>
<line class="k" x1="580.9" y1="290.2" x2="580.9" y2="294.0"/>
<ellipse class="k" cx="501.6" cy="318.3" rx="1.7" ry="1.9"/>
<path class="k" d="M473.5,268.8 L473.5,303.5"/>
<path class="m" d="M474.8,269.3 L474.8,304"/>
<path class="m" d="M474,268.9 L481,265.2"/>
<path class="k" d="M481.8,279.2 L481.8,287.6 L496,292.2 Q505,294 506.3,290 Q507,285.5 498,282.6 Z"/>
<path class="m" d="M483.6,280 L483.6,287.2 L487.5,288.3 L487.5,281"/>
<path class="m" d="M489,283 L492,284 L490.5,288 L488,287 Z"/>
<path class="k" d="M457,268.3 L465.3,271.2 L465.3,278.8 L458.8,272.6"/>
<path class="m" d="M459.5,275.0 L463.5,278.5"/>
<path class="k" d="M481.8,293.4 L481.8,301.8 L496,306.4 Q505,308.2 506.3,304.2 Q507,299.7 498,296.8 Z"/>
<path class="m" d="M483.6,294.2 L483.6,301.4 L487.5,302.5 L487.5,295.2"/>
<path class="m" d="M489,297.2 L492,298.2 L490.5,302.2 L488,301.2 Z"/>
<path class="k" d="M457,279.9 L465.3,282.8 L465.3,290.4 L458.8,284.2"/>
<path class="m" d="M459.5,286.6 L463.5,290.1"/>
<path class="kw" d="M469.30,241.54 A48.70,24.35 0 0 1 566.70,241.54 L566.70,248.38 A48.70,24.35 0 0 1 469.30,248.38 Z"/>
<path class="k" d="M469.30,241.54 A48.70,24.35 0 0 0 566.70,241.54"/>
<path d="M469.3,247.86 A48.7,24.35 0 0 0 566.7,247.86" fill="none" stroke="#000" stroke-width="2.2"/>
<path class="kw" d="M476.80,233.48 A41.20,20.60 0 0 1 559.20,233.48 L559.20,241.54 A41.20,20.60 0 0 1 476.80,241.54 Z"/>
<path class="kw" d="M471.00,227.07 A47.00,23.50 0 0 1 565.00,227.07 L565.00,233.48 A47.00,23.50 0 0 1 471.00,233.48 Z"/>
<path class="k" d="M471.00,227.07 A47.00,23.50 0 0 0 565.00,227.07"/>
<circle class="b" cx="520" cy="253.4" r="1.4"/>
<path class="kw" d="M476.80,213.39 A41.20,20.60 0 0 1 559.20,213.39 L559.20,227.07 A41.20,20.60 0 0 1 476.80,227.07 Z"/>
<path class="kw" d="M469.30,210.27 A48.70,24.35 0 0 1 566.70,210.27 L566.70,213.39 A48.70,24.35 0 0 1 469.30,213.39 Z"/>
<path class="k" d="M469.30,210.27 A48.70,24.35 0 0 0 566.70,210.27"/>
<path class="kw" d="M472.80,208.20 A45.20,22.60 0 0 1 563.20,208.20 L566.70,210.27 A48.70,24.35 0 0 1 469.30,210.27 Z"/>
<path class="kw" d="M472.80,204.56 A45.20,22.60 0 0 1 563.20,204.56 L563.20,208.20 A45.20,22.60 0 0 1 472.80,208.20 Z"/>
<path class="kw" d="M469.15,202.74 A48.85,24.43 0 0 1 566.85,202.74 L563.20,204.56 A45.20,22.60 0 0 1 472.80,204.56 Z"/>
<path class="kw" d="M469.15,191.14 A48.85,24.43 0 0 1 566.85,191.14 L566.85,202.74 A48.85,24.43 0 0 1 469.15,202.74 Z"/>
<path class="k" d="M469.15,191.14 A48.85,24.43 0 0 0 566.85,191.14"/>
<path class="kw" d="M470.20,189.75 A47.80,23.90 0 0 1 565.80,189.75 L566.85,191.14 A48.85,24.43 0 0 1 469.15,191.14 Z"/>
<path class="k" d="M470.20,189.75 A47.80,23.90 0 0 0 565.80,189.75"/>
<path class="kw" d="M507,235.5 L507,226 Q507.5,219.5 517.7,219.5 Q528,219.5 528.5,226 L528.5,236.5 Z"/>
<path class="kw" d="M480.60,184.81 A37.40,18.70 0 0 1 555.40,184.81 L554.00,187.93 A36.00,18.00 0 0 1 482.00,187.93 Z"/>
<path class="kw" d="M485.00,149.31 A33.00,16.50 0 0 1 551.00,149.31 L555.40,184.81 A37.40,18.70 0 0 1 480.60,184.81 Z"/>
<path class="kw" d="M486.60,147.23 A31.40,15.70 0 0 1 549.40,147.23 L551.00,149.31 A33.00,16.50 0 0 1 485.00,149.31 Z"/>
<rect class="w" x="507" y="130" width="21.8" height="6" rx="0"/>
<path class="k" d="M530.36,164.61 A33.00,16.50 0 0 0 529.29,133.80"/>
<path class="k" d="M505.64,164.61 A33.00,16.50 0 0 1 506.71,133.80"/>
<path class="k" d="M529.76,161.79 A31.40,15.70 0 0 0 528.74,132.48"/>
<path class="k" d="M506.24,161.79 A31.40,15.70 0 0 1 507.26,132.48"/>
<path class="m" d="M529.09,160.95 A29.60,14.80 0 0 0 528.12,133.32"/>
<path class="m" d="M506.91,160.95 A29.60,14.80 0 0 1 507.88,133.32"/>
<path class="k" d="M528.41,160.46 A27.80,13.90 0 0 0 527.51,134.51"/>
<path class="k" d="M507.59,160.46 A27.80,13.90 0 0 1 508.49,134.51"/>
<path class="k" d="M494.4,156.6 A23.7,10.6 0 0 1 541.6,156.6"/>
<path class="k" d="M507.3,132.5 L506.8,139.6 L509.5,141.2 L526.5,141.2 L528.8,139.6 L528.7,132.5"/>
<path class="k" d="M508.6,136.3 L527,136.3"/>
<path class="m" d="M508.5,134.5 L509.5,141.2 M527.5,134.5 L526.5,141.2"/>
<path class="kw" d="M505.6,162 L505.6,178 Q518,179.4 530.6,178 L530.6,162 L527.6,162 Q518,159.2 508.2,162 Z"/>
<path class="k" d="M508.2,162 L508.2,178.3 M527.6,162 L527.6,178.3"/>
<path class="m" d="M508.2,170.8 Q518,172.2 527.6,170.8 M508.2,173.8 Q518,175.4 527.6,173.8"/>
<path class="kw" d="M584,206.8 L590.3,208 L592.4,211.5 L592.4,253.3 L581,260 L581,222 L584,220 Z"/>
<path class="k" d="M577.2,223.6 L590.3,215.8 L590.3,208"/>
<path class="k" d="M581,260 L581,237 Q579.5,234 577,231.5 Q573.6,228 574,225.6 Q574.6,223.8 577.2,223.6"/>
<path class="m" d="M575.6,226.4 Q576.4,228.6 579,231.2 L581,234"/>
<circle class="b" cx="594.5" cy="219.7" r="1.5"/>
<circle class="b" cx="594.5" cy="231.6" r="1.5"/>
<line class="m" x1="592.4" y1="218" x2="596" y2="218"/>
<line class="m" x1="592.4" y1="230" x2="596" y2="230"/>
<ellipse class="kw" cx="575.5" cy="209.0" rx="9.2" ry="3.6"/>
<ellipse class="kw" cx="575.5" cy="211.4" rx="9.2" ry="3.6"/>
<ellipse class="kw" cx="575.5" cy="213.8" rx="9.2" ry="3.6"/>
<path class="kw" d="M565.1,182.6 L565.1,203 A10.8,4.4 0 0 0 586.7,203 L586.7,182.6 Z"/>
<ellipse class="kw" cx="575.9" cy="182.6" rx="10.8" ry="5"/>
<path class="m" d="M565.1,200.3 L577,200.3 L577,204 L580,204"/>
<path class="kw" d="M564.4,170.8 L571,166.6 Q572.6,165.7 574.2,166.4 L580.4,169.4 Q581.6,170.2 581.6,171.5 L582,178.3 Q580.5,182 577.9,182.9 Q572,184.5 565.1,181.1 L563.7,172.5 Q563.5,171.4 564.4,170.8 Z"/>
<path class="k" d="M563.9,172 L573.2,175.2 Q574.7,175.6 576,174.8 L581.4,170.6"/>
<path class="m" d="M574.7,175.4 L578.4,182.5"/>
<path class="m" d="M579.5,174.5 L578.9,182.3"/>
<ellipse class="m" cx="572.4" cy="170.5" rx="3.1" ry="1.6"/>
</g>
<g id="v4">
<path class="kw" d="M716,120.8 L743,120.8 L750.5,128.3 L753.5,128.8 L753.5,149.8 L743.8,158 L716,158 Z"/>
<path class="m" d="M748.2,126 L748.2,125 L751.7,125 L751.7,128.5"/>
<circle class="kw" cx="734.5" cy="140" r="3.1"/>
<line class="k" x1="737.6" y1="139.3" x2="753.5" y2="139.3"/>
<line class="k" x1="737.6" y1="140.8" x2="753.5" y2="140.8"/>
<circle class="kw" cx="656.5" cy="140.0" r="63.7"/>
<circle class="k" cx="656.5" cy="140.0" r="58.4"/>
<circle class="k" cx="656.5" cy="140.0" r="49.4"/>
<circle class="m" cx="656.5" cy="140.0" r="47.6"/>
<polygon class="k" points="704.3,140.0 704.2,142.5 703.9,145.0 703.4,147.4 702.8,149.8 701.9,152.2 701.0,154.5 699.9,156.6 698.7,158.8 697.3,160.8 695.9,162.8 694.5,164.7 693.0,166.5 691.4,168.3 689.8,170.0 688.2,171.7 686.5,173.3 684.8,174.9 683.0,176.5 681.2,178.0 679.3,179.4 677.3,180.8 675.3,182.2 673.1,183.4 671.0,184.5 668.7,185.4 666.3,186.3 663.9,186.9 661.5,187.4 659.0,187.7 656.5,187.8 654.0,187.7 651.5,187.4 649.1,186.9 646.7,186.3 644.3,185.4 642.0,184.5 639.9,183.4 637.7,182.2 635.7,180.8 633.7,179.4 631.8,178.0 630.0,176.5 628.2,174.9 626.5,173.3 624.8,171.7 623.2,170.0 621.6,168.3 620.0,166.5 618.5,164.7 617.1,162.8 615.7,160.8 614.3,158.8 613.1,156.6 612.0,154.5 611.1,152.2 610.2,149.8 609.6,147.4 609.1,145.0 608.8,142.5 608.7,140.0 608.8,137.5 609.1,135.0 609.6,132.6 610.2,130.2 611.1,127.8 612.0,125.5 613.1,123.4 614.3,121.2 615.7,119.2 617.1,117.2 618.5,115.3 620.0,113.5 621.6,111.7 623.2,110.0 624.8,108.3 626.5,106.7 628.2,105.1 630.0,103.5 631.8,102.0 633.7,100.6 635.7,99.2 637.7,97.8 639.9,96.6 642.0,95.5 644.3,94.6 646.7,93.7 649.1,93.1 651.5,92.6 654.0,92.3 656.5,92.2 659.0,92.3 661.5,92.6 663.9,93.1 666.3,93.7 668.7,94.6 671.0,95.5 673.1,96.6 675.3,97.8 677.3,99.2 679.3,100.6 681.2,102.0 683.0,103.5 684.8,105.1 686.5,106.7 688.2,108.3 689.8,110.0 691.4,111.7 693.0,113.5 694.5,115.3 695.9,117.2 697.3,119.2 698.7,121.2 699.9,123.4 701.0,125.5 701.9,127.8 702.8,130.2 703.4,132.6 703.9,135.0 704.2,137.5"/>
<circle class="t" cx="656.5" cy="140.0" r="38.6"/>
<circle class="k" cx="629.1" cy="92.0" r="3.1"/>
<circle class="k" cx="629.1" cy="188.0" r="3.1"/>
<circle class="k" cx="683.9" cy="92.0" r="3.1"/>
<circle class="k" cx="683.9" cy="188.0" r="3.1"/>
<circle class="k" cx="600.7" cy="140" r="2.9"/>
<line class="k" x1="600.7" y1="137.1" x2="600.7" y2="142.9"/>
<circle class="k" cx="711.5" cy="139.7" r="2.9"/>
<line class="k" x1="712.3" y1="136.9" x2="712.3" y2="142.5"/>
<rect class="kw" x="627.8" y="113.5" width="51.7" height="53" rx="0"/>
<line class="k" x1="627.8" y1="127.8" x2="685.5" y2="127.8"/>
<line class="k" x1="627.8" y1="152" x2="685.5" y2="152"/>
<line class="m" x1="683.2" y1="113.5" x2="683.2" y2="166.5"/>
<line class="m" x1="685.5" y1="114.5" x2="685.5" y2="165.5"/>
<line class="m" x1="679.5" y1="113.5" x2="685.5" y2="113.5"/>
<line class="m" x1="679.5" y1="166.5" x2="685.5" y2="166.5"/>
<rect class="k" x="622.5" y="121" width="5.3" height="38" rx="0"/>
<rect class="k" x="620.5" y="127.8" width="2" height="24.2" rx="0"/>
<line class="m" x1="618" y1="118" x2="618" y2="162"/>
</g>
<g id="d4">
<line class="c2" x1="612" y1="140.5" x2="701" y2="140.5"/>
<line class="c2" x1="656.5" y1="89" x2="656.5" y2="190"/>
<line class="t" x1="687" y1="101.5" x2="788" y2="101.5"/>
<line class="t" x1="688" y1="178.5" x2="788" y2="178.5"/>
<line class="t" x1="782.5" y1="101.3" x2="782.5" y2="178.3"/>
<polygon class="a" points="782.8,101.3 780.4,115.3 785.2,115.3"/>
<polygon class="a" points="782.8,178.3 780.4,164.3 785.2,164.3"/>
<text transform="translate(778.8 134) rotate(-90) scale(0.62 1)" x="-20.45 -10.21 2.58 10.27" y="0">79.7</text>
<text transform="translate(773.2 152.6) rotate(-90) scale(0.95 1)" x="0" y="4.9" text-anchor="middle" font-size="13.5" style="stroke:none;fill:#666">Ø</text>
</g>
</svg>
</body></html>
